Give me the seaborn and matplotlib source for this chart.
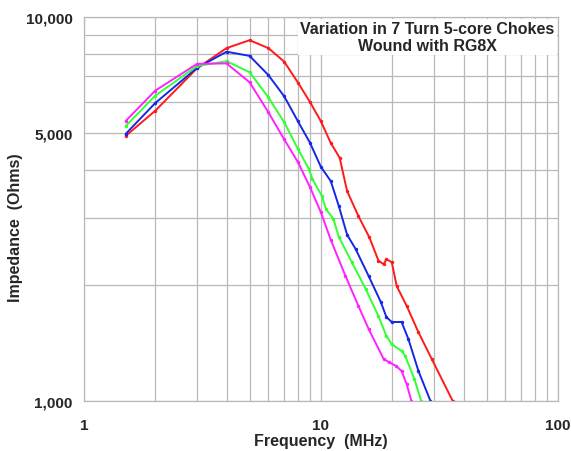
import matplotlib
matplotlib.use("Agg")
import matplotlib.pyplot as plt
import matplotlib.ticker as mticker
import seaborn as sns
import pandas as pd

# impedance curves (MHz, Ohms)
red_f = [1.5, 2, 3, 4, 5, 6, 7, 8, 9, 10, 11, 12, 12.9, 14.4, 16, 17.5, 18.4, 18.9, 19.9, 20.9, 23, 25.8, 29.3, 36]
red_z = [4900, 5700, 7350, 8300, 8700, 8300, 7650, 6750, 6000, 5350, 4700, 4300, 3520, 3030, 2670, 2320, 2270, 2340, 2300, 1990, 1770, 1510, 1290, 1000]

blue_f = [1.5, 2, 3, 4, 5, 6, 7, 8, 9, 10, 11, 11.9, 12.9, 14, 15.9, 17.9, 18.9, 19.9, 21.9, 23.4, 25.8, 29]
blue_z = [4960, 5970, 7370, 8120, 7920, 7060, 6215, 5350, 4700, 4070, 3740, 3220, 2710, 2490, 2116, 1810, 1654, 1606, 1606, 1450, 1197, 1000]

green_f = [1.5, 2, 3, 4, 5, 6, 7, 8, 8.9, 9.2, 10.1, 10.5, 11.3, 11.9, 13.5, 15.45, 17.5, 18.9, 19.9, 21.9, 22.7, 24.8, 26.5]
green_z = [5200, 6240, 7450, 7670, 7180, 6180, 5320, 4530, 4020, 3786, 3418, 3160, 2978, 2674, 2300, 1957, 1664, 1476, 1407, 1350, 1310, 1141, 1000]

magenta_f = [1.5, 2, 3, 4, 5, 6, 7, 8, 9, 10, 11, 12.7, 14.4, 15.9, 18.4, 19.3, 20.8, 21.9, 23, 24.1]
magenta_z = [5360, 6430, 7550, 7570, 6760, 5650, 4800, 4190, 3600, 3100, 2630, 2116, 1768, 1540, 1286, 1264, 1233, 1197, 1107, 1000]

series = ["red", "blue", "green", "magenta"]
colours = {"red": "#ff1a1a", "blue": "#1428e6", "green": "#33ff33", "magenta": "#ff22ff"}

frames = []
for name, fs, zs in [("red", red_f, red_z), ("blue", blue_f, blue_z),
                     ("green", green_f, green_z), ("magenta", magenta_f, magenta_z)]:
    frames.append(pd.DataFrame({"freq": fs, "imp": zs, "choke": name}))
df = pd.concat(frames, ignore_index=True)

sns.set_style("white")
plt.rcParams["font.family"] = ["Liberation Sans", "DejaVu Sans"]

fig = plt.figure(figsize=(5.71, 4.52), dpi=100)
ax = fig.add_axes([0.147, 0.1106, 0.830, 0.8496])

sns.lineplot(data=df, x="freq", y="imp", hue="choke", hue_order=series,
             palette=colours, sort=False, estimator=None, marker="o",
             markersize=2.5, markeredgewidth=0, linewidth=1.4, legend=False, ax=ax)

ax.set_xscale("log")
ax.set_yscale("log")
ax.set_xlim(1, 100)
ax.set_ylim(1000, 10000)

ax.xaxis.set_major_locator(mticker.FixedLocator([1, 10, 100]))
ax.xaxis.set_major_formatter(mticker.FixedFormatter(["1", "10", "100"]))
ax.xaxis.set_minor_locator(mticker.LogLocator(base=10, subs=range(2, 10)))
ax.xaxis.set_minor_formatter(mticker.NullFormatter())
ax.yaxis.set_major_locator(mticker.FixedLocator([1000, 5000, 10000]))
ax.yaxis.set_major_formatter(mticker.FixedFormatter(["1,000", "5,000", "10,000"]))
ax.yaxis.set_minor_locator(mticker.FixedLocator([2000, 3000, 4000, 6000, 7000, 8000, 9000]))
ax.yaxis.set_minor_formatter(mticker.NullFormatter())

ax.grid(True, which="both", color="#b8b8b8", linewidth=0.9)
ax.set_axisbelow(True)
for s in ax.spines.values():
    s.set_color("#b8b8b8")
    s.set_linewidth(0.9)

ax.tick_params(axis="y", which="major", length=6, color="#b8b8b8", width=0.9,
               labelsize=11, pad=2)
ax.tick_params(axis="y", which="minor", length=0)
ax.tick_params(axis="x", which="both", length=4, color="#b8b8b8", width=0.9,
               labelsize=11, pad=8)
for lab in ax.get_xticklabels() + ax.get_yticklabels():
    lab.set_fontweight("bold")

ax.set_xlabel("Frequency  (MHz)", fontsize=11.5, fontweight="bold")
ax.xaxis.set_label_coords(0.5, -0.083)
ax.set_ylabel("Impedance  (Ohms)", fontsize=11.5, fontweight="bold")
ax.yaxis.set_label_coords(-0.128, 0.455)

ax.text(0.725, 0.99, "Variation in 7 Turn 5-core Chokes\nWound with RG8X",
        transform=ax.transAxes, ha="center", va="top", fontsize=11.5,
        fontweight="bold", linespacing=1.2,
        bbox=dict(facecolor="white", edgecolor="none", pad=1.5))

fig.savefig("out.png", dpi=100)
